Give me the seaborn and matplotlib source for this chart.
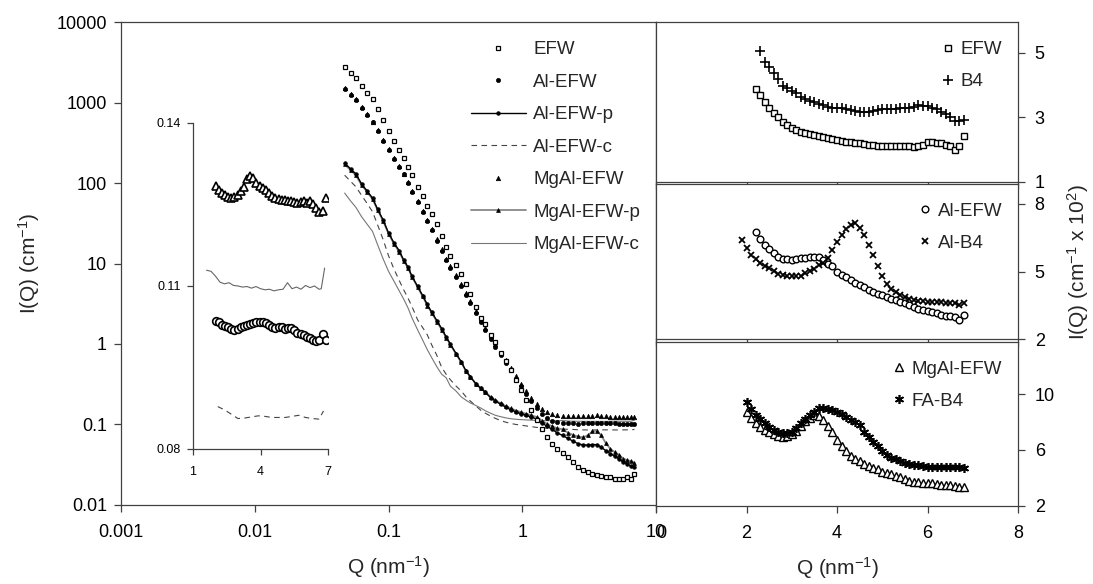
import numpy as np
import pandas as pd
import matplotlib
matplotlib.use("Agg")
import matplotlib.pyplot as plt
import seaborn as sns
from matplotlib.ticker import FixedLocator, NullLocator

# ---- main log-log panel: Q (nm-1) and I(Q) (cm-1) ----
q_main = [0.047, 0.052, 0.057, 0.063, 0.069, 0.076, 0.083, 0.091, 0.10, 0.11,
          0.12, 0.13, 0.14, 0.15, 0.165, 0.18, 0.195, 0.21, 0.23, 0.25,
          0.27, 0.29, 0.32, 0.35, 0.38, 0.41, 0.45, 0.49, 0.53, 0.58,
          0.63, 0.69, 0.75, 0.82, 0.90, 0.98, 1.07, 1.17, 1.28, 1.40,
          1.53, 1.67, 1.82, 2.0, 2.2, 2.4, 2.6, 2.85, 3.1, 3.35,
          3.6, 3.9, 4.2, 4.55, 4.9, 5.3, 5.7, 6.1, 6.5, 6.9]

efw = [2750, 2300, 2000, 1600, 1300, 1100, 830, 600, 440, 330,
       260, 205, 160, 126, 90, 68, 52, 41, 31, 22,
       16, 12.5, 9.5, 7.5, 5.5, 4.2, 2.9, 2.1, 1.75, 1.3,
       1.05, 0.78, 0.62, 0.48, 0.36, 0.27, 0.2, 0.15, 0.115, 0.087,
       0.07, 0.058, 0.05, 0.044, 0.039, 0.034, 0.03, 0.027, 0.0255, 0.0245,
       0.0238, 0.023, 0.0225, 0.022, 0.0212, 0.0211, 0.0212, 0.0222, 0.021, 0.024]

al_efw = [1480, 1250, 1070, 860, 700, 570, 440, 330, 255, 200,
          160, 128, 100, 78, 58, 44, 34, 26, 19, 14.5,
          11, 8.8, 6.8, 5.2, 4.1, 3.2, 2.4, 1.85, 1.5, 1.15,
          0.92, 0.72, 0.58, 0.47, 0.37, 0.3, 0.24, 0.195, 0.16, 0.135,
          0.12, 0.112, 0.107, 0.1035, 0.1033, 0.103, 0.1028, 0.103, 0.1035, 0.1038,
          0.104, 0.1042, 0.104, 0.1035, 0.103, 0.1025, 0.102, 0.101, 0.1005, 0.100]

mgal_efw = [1520, 1280, 1100, 880, 720, 580, 450, 340, 262, 205,
            164, 131, 103, 80, 60, 45, 35, 27, 20, 15,
            11.5, 9.2, 7.1, 5.5, 4.3, 3.4, 2.6, 2.0, 1.6, 1.25,
            1.0, 0.78, 0.63, 0.5, 0.4, 0.32, 0.26, 0.215, 0.18, 0.155,
            0.142, 0.135, 0.131, 0.128, 0.127, 0.1265, 0.126, 0.1262, 0.127, 0.129,
            0.131, 0.128, 0.1265, 0.1255, 0.125, 0.1248, 0.1245, 0.124, 0.1238, 0.124]

al_efw_p = [177, 150, 130, 97, 80, 65, 47, 35, 24, 18,
            14.5, 11, 9.0, 6.9, 5.2, 4.0, 3.1, 2.5, 1.95, 1.55,
            1.22, 1.0, 0.76, 0.6, 0.46, 0.39, 0.32, 0.28, 0.25, 0.215,
            0.195, 0.178, 0.165, 0.152, 0.143, 0.136, 0.13, 0.124, 0.117, 0.105,
            0.095, 0.087, 0.079, 0.073, 0.067, 0.062, 0.058, 0.0555, 0.0556, 0.0563,
            0.0562, 0.052, 0.0475, 0.0435, 0.0405, 0.037, 0.0345, 0.032, 0.0305, 0.030]

mgal_efw_p = [170, 145, 125, 94, 78, 63, 46, 34, 23.5, 17.5,
              14, 10.8, 8.8, 6.8, 5.1, 3.9, 3.0, 2.45, 1.9, 1.5,
              1.2, 0.98, 0.75, 0.59, 0.46, 0.39, 0.32, 0.285, 0.255, 0.22,
              0.2, 0.183, 0.17, 0.158, 0.149, 0.142, 0.136, 0.13, 0.124, 0.112,
              0.102, 0.095, 0.09, 0.087, 0.079, 0.074, 0.071, 0.0693, 0.0736, 0.082,
              0.084, 0.073, 0.059, 0.05, 0.0455, 0.042, 0.0375, 0.0362, 0.035, 0.0336]

al_efw_c = [125, 105, 90, 70, 56, 44, 30, 20, 12.5, 8.5,
            6.2, 4.7, 3.7, 2.9, 2.0, 1.6, 1.3, 0.98, 0.72, 0.51,
            0.42, 0.36, 0.3, 0.26, 0.22, 0.195, 0.17, 0.15, 0.138, 0.127,
            0.119, 0.112, 0.107, 0.103, 0.1, 0.098, 0.096, 0.094, 0.092, 0.091,
            0.09, 0.089, 0.088, 0.0875, 0.0872, 0.0868, 0.086, 0.0857, 0.0855, 0.0855,
            0.0856, 0.0858, 0.0858, 0.0857, 0.0856, 0.0855, 0.0857, 0.0858, 0.0855, 0.087]

mgal_efw_c = [75, 60, 50, 38, 31, 25, 17, 11.5, 8.0, 6.0,
              4.6, 3.6, 2.8, 2.1, 1.5, 1.12, 0.85, 0.68, 0.52, 0.42,
              0.38, 0.3, 0.26, 0.22, 0.2, 0.185, 0.172, 0.16, 0.148, 0.138,
              0.13, 0.125, 0.121, 0.118, 0.116, 0.115, 0.114, 0.113, 0.1125, 0.112,
              0.1115, 0.1115, 0.1115, 0.1118, 0.1105, 0.1098, 0.1096, 0.1094, 0.1093, 0.1092,
              0.1093, 0.1093, 0.1092, 0.1094, 0.1098, 0.1095, 0.1097, 0.1094, 0.1096, 0.1133]

# ---- inset (linear, high-Q plateau) ----
q_inset = [2.0, 2.14, 2.28, 2.42, 2.56, 2.7, 2.84, 2.98, 3.12, 3.26,
           3.4, 3.54, 3.68, 3.82, 3.96, 4.1, 4.24, 4.38, 4.52, 4.66,
           4.8, 4.94, 5.08, 5.22, 5.36, 5.5, 5.64, 5.78, 5.92, 6.06,
           6.2, 6.34, 6.48, 6.62, 6.76, 6.9]
inset_mgal = [0.1284, 0.1277, 0.1272, 0.1267, 0.1264, 0.1262, 0.1264, 0.1268, 0.1275, 0.1283,
              0.1296, 0.1303, 0.1298, 0.129, 0.1284, 0.1281, 0.1277, 0.1271, 0.1266, 0.1262,
              0.126, 0.1258, 0.1259, 0.1256, 0.1257, 0.1254, 0.1252, 0.1255, 0.1256, 0.1253,
              0.1256, 0.125, 0.1243, 0.1236, 0.1238, 0.1262]
inset_al = [0.1035, 0.1033, 0.1029, 0.1027, 0.1024, 0.1021, 0.1019, 0.1021, 0.1024, 0.1026,
            0.1028, 0.103, 0.1032, 0.1033, 0.1034, 0.1033, 0.1031, 0.1028, 0.1024, 0.1023,
            0.1025, 0.1024, 0.1021, 0.1022, 0.1023, 0.1019, 0.1014, 0.1012, 0.101, 0.1007,
            0.1004, 0.1, 0.0999, 0.1001, 0.1012, 0.1]
q_inset_c = [1.6, 1.8, 2.0, 2.2, 2.4, 2.6, 2.8, 3.0, 3.2, 3.4,
             3.6, 3.8, 4.0, 4.2, 4.4, 4.6, 4.8, 5.0, 5.2, 5.4,
             5.6, 5.8, 6.0, 6.2, 6.4, 6.6, 6.7, 6.85]
inset_mgal_c = [0.1129, 0.1127, 0.1118, 0.1107, 0.1104, 0.1106, 0.1101, 0.1100, 0.1098, 0.1099,
                0.1096, 0.1099, 0.1095, 0.1093, 0.1094, 0.1091, 0.1093, 0.1094, 0.1106, 0.1095,
                0.1098, 0.1094, 0.1101, 0.1097, 0.1100, 0.1094, 0.1095, 0.1133]
q_inset_d = [2.1, 2.4, 2.7, 3.0, 3.3, 3.6, 3.9, 4.2, 4.5, 4.8, 5.1, 5.4, 5.7, 6.0, 6.3, 6.6, 6.8]
inset_al_c = [0.0878, 0.0872, 0.0864, 0.0856, 0.0857, 0.0859, 0.0861, 0.0860, 0.0858, 0.0858,
              0.0858, 0.0860, 0.0862, 0.0858, 0.0856, 0.0855, 0.0870]

# ---- right panels: I(Q) x 10^2 on linear Q ----
nan = np.nan
q_right = [1.9, 2.0, 2.1, 2.2, 2.3, 2.4, 2.5, 2.6, 2.7, 2.8,
           2.9, 3.0, 3.1, 3.2, 3.3, 3.4, 3.5, 3.6, 3.7, 3.8,
           3.9, 4.0, 4.1, 4.2, 4.3, 4.4, 4.5, 4.6, 4.7, 4.8,
           4.9, 5.0, 5.1, 5.2, 5.3, 5.4, 5.5, 5.6, 5.7, 5.8,
           5.9, 6.0, 6.1, 6.2, 6.3, 6.4, 6.5, 6.6, 6.7, 6.8]
r_efw = [nan, nan, nan, 3.88, 3.68, 3.47, 3.3, 3.13, 3.0, 2.86,
         2.76, 2.68, 2.62, 2.55, 2.51, 2.48, 2.44, 2.41, 2.38, 2.35,
         2.32, 2.3, 2.28, 2.25, 2.23, 2.21, 2.2, 2.18, 2.15, 2.14,
         2.12, 2.11, 2.1, 2.11, 2.11, 2.1, 2.11, 2.1, 2.08, 2.12,
         2.14, 2.24, 2.24, 2.22, 2.2, 2.14, 2.1, 2.0, 2.1, 2.42]
r_b4 = [nan, nan, nan, nan, 5.05, 4.72, 4.55, 4.36, 4.18, 3.98,
        3.9, 3.82, 3.74, 3.62, 3.56, 3.5, 3.46, 3.41, 3.37, 3.33,
        3.3, 3.3, 3.29, 3.27, 3.24, 3.21, 3.18, 3.18, 3.17, 3.2,
        3.23, 3.25, 3.25, 3.25, 3.27, 3.28, 3.29, 3.3, 3.33, 3.37,
        3.36, 3.34, 3.3, 3.25, 3.18, 3.1, 3.0, 2.88, 2.9, 2.92]
r_al_efw = [nan, nan, nan, 6.75, 6.46, 6.2, 6.0, 5.82, 5.66, 5.57,
            5.54, 5.53, 5.56, 5.59, 5.62, 5.66, 5.67, 5.64, 5.52, 5.36,
            5.23, 5.0, 4.86, 4.75, 4.63, 4.5, 4.4, 4.31, 4.2, 4.1,
            4.03, 3.96, 3.87, 3.8, 3.73, 3.68, 3.63, 3.53, 3.44, 3.35,
            3.29, 3.24, 3.2, 3.15, 3.1, 3.06, 3.03, 2.98, 2.84, 3.1]
r_al_b4 = [6.41, 6.03, 5.75, 5.55, 5.4, 5.26, 5.15, 5.04, 4.91, 4.85,
           4.82, 4.81, 4.83, 4.83, 4.93, 5.02, 5.12, 5.28, 5.4, 5.62,
           5.95, 6.32, 6.63, 6.9, 7.08, 7.14, 6.95, 6.62, 6.2, 5.72,
           5.26, 4.82, 4.44, 4.24, 4.09, 3.97, 3.88, 3.81, 3.76, 3.72,
           3.7, 3.68, 3.67, 3.68, 3.64, 3.63, 3.62, 3.6, 3.54, 3.63]
r_mgal_efw = [nan, 8.75, 8.32, 7.95, 7.64, 7.45, 7.27, 7.12, 7.03, 6.95,
              6.98, 7.14, 7.34, 7.7, 8.05, 8.32, 8.48, 8.42, 8.12, 7.68,
              7.25, 6.68, 6.25, 5.9, 5.6, 5.37, 5.19, 5.03, 4.83, 4.72,
              4.62, 4.45, 4.35, 4.27, 4.16, 4.05, 3.94, 3.79, 3.74, 3.69,
              3.64, 3.64, 3.61, 3.57, 3.52, 3.5, 3.5, 3.4, 3.36, 3.36]
r_fa_b4 = [nan, 9.4, 8.92, 8.52, 8.2, 7.93, 7.65, 7.4, 7.25, 7.18,
           7.2, 7.3, 7.58, 7.92, 8.2, 8.47, 8.72, 9.0, 9.02, 8.95,
           8.85, 8.68, 8.54, 8.36, 8.16, 8.0, 7.75, 7.32, 6.95, 6.6,
           6.28, 5.9, 5.66, 5.46, 5.38, 5.22, 5.1, 5.0, 4.95, 4.91,
           4.86, 4.81, 4.79, 4.79, 4.79, 4.79, 4.79, 4.79, 4.77, 4.7]

# ---- style ----
sns.set_style("ticks")
plt.rcParams["font.family"] = ["Liberation Sans", "DejaVu Sans"]
plt.rcParams["mathtext.default"] = "regular"
edge = "#404040"
plt.rcParams.update({
    "axes.edgecolor": edge, "axes.linewidth": 0.9,
    "xtick.color": edge, "ytick.color": edge,
    "xtick.labelcolor": "black", "ytick.labelcolor": "black",
    "xtick.direction": "out", "ytick.direction": "out",
    "xtick.major.size": 5, "ytick.major.size": 5,
    "xtick.major.width": 0.9, "ytick.major.width": 0.9,
})
tick_fs = 13
leg_fs = 13.5
lab_fs = 15


def draw(ax, x, y, **kw):
    sns.lineplot(x=x, y=y, ax=ax, estimator=None, sort=False, legend=False, **kw)


fig = plt.figure(figsize=(10.93, 5.84), dpi=100)

# main axes
ax = fig.add_axes([0.1107, 0.1353, 0.4895, 0.8270])
ax.set_xscale("log")
ax.set_yscale("log")

draw(ax, q_main, al_efw_c, color="#444444", lw=0.8, linestyle=(0, (5, 4)), label="Al-EFW-c")
draw(ax, q_main, mgal_efw_c, color="#777777", lw=0.8, label="MgAl-EFW-c")
draw(ax, q_main, mgal_efw_p, color="#888888", lw=1.3, marker="^", ms=2.8,
     mfc="black", mec="black", mew=0.5, label="MgAl-EFW-p")
draw(ax, q_main, al_efw_p, color="black", lw=1.0, marker="o", ms=2.6,
     mfc="black", mec="black", mew=0.5, label="Al-EFW-p")
draw(ax, q_main, mgal_efw, color="black", linestyle="none", marker="^", ms=3.2,
     mfc="black", mec="black", mew=0.5, label="MgAl-EFW")
draw(ax, q_main, al_efw, color="black", linestyle="none", marker="o", ms=3.0,
     mfc="black", mec="black", mew=0.5, label="Al-EFW")
draw(ax, q_main, efw, color="black", linestyle="none", marker="s", ms=3.2,
     mfc="white", mec="black", mew=0.9, label="EFW")

ax.set_xlim(0.001, 10)
ax.set_ylim(0.01, 10000)
xt = [0.001, 0.01, 0.1, 1, 10]
yt = [0.01, 0.1, 1, 10, 100, 1000, 10000]
ax.xaxis.set_major_locator(FixedLocator(xt))
ax.yaxis.set_major_locator(FixedLocator(yt))
ax.xaxis.set_minor_locator(NullLocator())
ax.yaxis.set_minor_locator(NullLocator())
ax.set_xticklabels(["0.001", "0.01", "0.1", "1", "10"])
ax.set_yticklabels(["0.01", "0.1", "1", "10", "100", "1000", "10000"])
ax.tick_params(labelsize=tick_fs)
ax.tick_params(axis="x", pad=9)
ax.tick_params(axis="y", pad=5)
ax.set_xlabel("Q (nm$^{-1}$)", fontsize=lab_fs)
ax.set_ylabel("I(Q) (cm$^{-1}$)", fontsize=lab_fs)
ax.xaxis.set_label_coords(0.5, -0.102)
ax.yaxis.set_label_coords(-0.147, 0.5)

handles = {h.get_label(): h for h in ax.get_lines()}
order = ["EFW", "Al-EFW", "Al-EFW-p", "Al-EFW-c", "MgAl-EFW", "MgAl-EFW-p", "MgAl-EFW-c"]
ax.legend([handles[k] for k in order], order, loc="upper left",
          bbox_to_anchor=(0.637, 0.98), frameon=False, numpoints=1,
          handlelength=2.9, handletextpad=0.4, labelspacing=0.82,
          borderpad=0, fontsize=leg_fs)

# inset
axi = fig.add_axes([0.1766, 0.2312, 0.1235, 0.5582])
axi.set_facecolor("none")
draw(axi, q_inset_d, inset_al_c, color="#444444", lw=0.8, linestyle=(0, (5, 4)))
draw(axi, q_inset_c, inset_mgal_c, color="#666666", lw=0.8)
draw(axi, q_inset, inset_al, color="black", linestyle="none", marker="o", ms=5.5,
     mfc="white", mec="black", mew=1.2)
draw(axi, q_inset, inset_mgal, color="black", linestyle="none", marker="^", ms=6,
     mfc="white", mec="black", mew=1.2)
axi.set_xlim(1, 7)
axi.set_ylim(0.08, 0.14)
axi.set_xticks([1, 4, 7])
axi.set_yticks([0.08, 0.11, 0.14])
axi.set_xticklabels(["1", "4", "7"])
axi.set_yticklabels(["0.08", "0.11", "0.14"])
axi.tick_params(labelsize=9, length=4)
axi.tick_params(axis="x", pad=8)
axi.tick_params(axis="y", pad=5)
axi.spines["top"].set_visible(False)
axi.spines["right"].set_visible(False)

# right panels
x0, w = 0.6002, 0.3312
panels = [
    ([0.6884, 0.2739], (1, 5.95), [1, 3, 5],
     [(r_efw, "EFW", dict(marker="s", ms=4.8, mfc="white", mew=1.0)),
      (r_b4, "B4", dict(marker="+", ms=6.5, mew=1.2))]),
    ([0.4187, 0.2662], (2, 8.88), [2, 5, 8],
     [(r_al_efw, "Al-EFW", dict(marker="o", ms=4.8, mfc="white", mew=1.0)),
      (r_al_b4, "Al-B4", dict(marker="x", ms=5, mew=1.3))]),
    ([0.1336, 0.2816], (2, 13.75), [2, 6, 10],
     [(r_mgal_efw, "MgAl-EFW", dict(marker="^", ms=5.2, mfc="white", mew=1.0)),
      (r_fa_b4, "FA-B4", dict(marker=(6, 2, 0), ms=6.5, mew=1.2))]),
]
right_axes = []
for (bottom, height), ylim, yticks, series in panels:
    axr = fig.add_axes([x0, bottom, w, height])
    for vals, lab, kw in series:
        draw(axr, q_right, vals, color="black", linestyle="none", mec="black", label=lab, **kw)
    axr.set_xlim(0, 8)
    axr.set_ylim(*ylim)
    axr.set_xticks([0, 2, 4, 6, 8])
    axr.set_yticks(yticks)
    axr.yaxis.tick_right()
    axr.tick_params(labelsize=tick_fs)
    axr.tick_params(axis="y", pad=7)
    axr.tick_params(axis="x", labelbottom=False, pad=9)
    axr.legend(loc="upper right", bbox_to_anchor=(0.983, 0.94), frameon=False,
               numpoints=1, handlelength=0.8, handletextpad=0.3, labelspacing=0.8,
               borderpad=0, fontsize=leg_fs)
    right_axes.append(axr)

axb = right_axes[-1]
axb.tick_params(axis="x", labelbottom=True)
# the "0" of this axis sits on the "0" of the main axis "10"
axb.get_xticklabels()[0].set_horizontalalignment("left")
axb.set_xlabel("Q (nm$^{-1}$)", fontsize=lab_fs)
axb.xaxis.set_label_coords(0.5, -0.298)
fig.text(0.986, 0.551, "I(Q) (cm$^{-1}$ x 10$^{2}$)", rotation=90,
         ha="center", va="center", fontsize=lab_fs)

fig.savefig("out.png", dpi=100)
